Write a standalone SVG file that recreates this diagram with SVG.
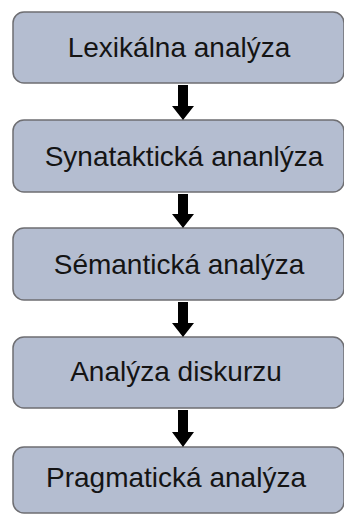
<svg xmlns="http://www.w3.org/2000/svg" width="344" height="514" viewBox="0 0 344 514">
<style>
.box{fill:#b4bdd0;stroke:#6e6e72;stroke-width:1.5}
.lbl{font-family:"Liberation Sans",Arial,sans-serif;font-size:28px;fill:#141414;text-anchor:middle}
.arr{fill:#000}
</style>
<rect width="344" height="514" fill="#ffffff"/>
<g id="n1"><rect class="box" x="13" y="12" width="331" height="71" rx="11"/><text class="lbl" x="179" y="57">Lexikálna analýza</text></g>
<g id="n2"><rect class="box" x="13" y="120" width="331" height="72" rx="11"/><text class="lbl" x="184" y="166">Synataktická ananlýza</text></g>
<g id="n3"><rect class="box" x="13" y="228" width="331" height="72" rx="11"/><text class="lbl" x="179" y="274">Sémantická analýza</text></g>
<g id="n4"><rect class="box" x="13" y="337" width="331" height="71" rx="11"/><text class="lbl" x="176" y="381">Analýza diskurzu</text></g>
<g id="n5"><rect class="box" x="13" y="447" width="331" height="66" rx="11"/><text class="lbl" x="176" y="487">Pragmatická analýza</text></g>
<g id="connectors">
<polygon class="arr" points="178,85 188,85 188,106 194,106 183,120 172,106 178,106"/>
<polygon class="arr" points="178,194 188,194 188,214 194,214 183,228 172,214 178,214"/>
<polygon class="arr" points="178,302 188,302 188,323 194,323 183,337 172,323 178,323"/>
<polygon class="arr" points="178,410 188,410 188,432 194,432 183,447 172,432 178,432"/>
</g>
</svg>
